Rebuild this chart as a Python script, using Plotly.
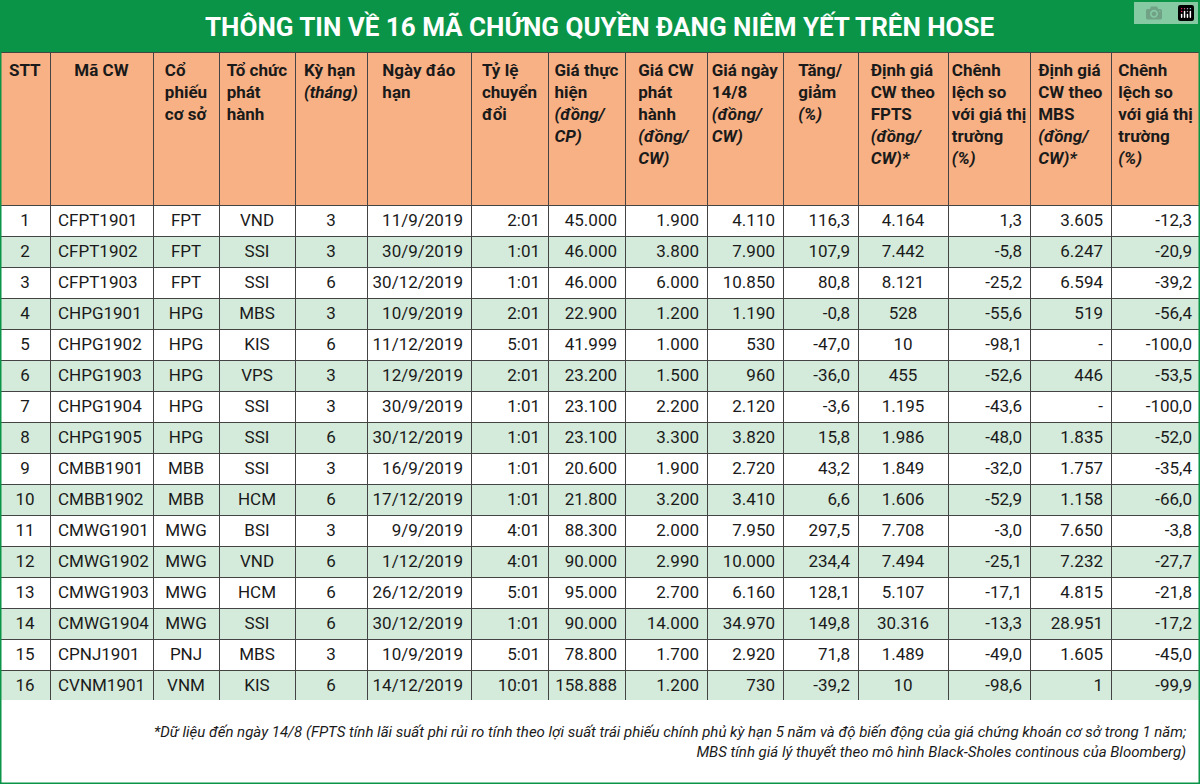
import plotly.graph_objects as go

stt = list(range(1, 17))
ma_cw = ["CFPT1901","CFPT1902","CFPT1903","CHPG1901","CHPG1902","CHPG1903","CHPG1904","CHPG1905",
         "CMBB1901","CMBB1902","CMWG1901","CMWG1902","CMWG1903","CMWG1904","CPNJ1901","CVNM1901"]
co_phieu = ["FPT","FPT","FPT","HPG","HPG","HPG","HPG","HPG","MBB","MBB","MWG","MWG","MWG","MWG","PNJ","VNM"]
to_chuc = ["VND","SSI","SSI","MBS","KIS","VPS","SSI","SSI","SSI","HCM","BSI","VND","HCM","SSI","MBS","KIS"]
ky_han = [3,3,6,3,6,3,3,6,3,6,3,6,6,6,3,6]
ngay = ["11/9/2019","30/9/2019","30/12/2019","10/9/2019","11/12/2019","12/9/2019","30/9/2019","30/12/2019",
        "16/9/2019","17/12/2019","9/9/2019","1/12/2019","26/12/2019","30/12/2019","10/9/2019","14/12/2019"]
ty_le = ["2:01","1:01","1:01","2:01","5:01","2:01","1:01","1:01","1:01","1:01","4:01","4:01","5:01","1:01","5:01","10:01"]
gia_th = ["45.000","46.000","46.000","22.900","41.999","23.200","23.100","23.100","20.600","21.800","88.300","90.000","95.000","90.000","78.800","158.888"]
gia_ph = ["1.900","3.800","6.000","1.200","1.000","1.500","2.200","3.300","1.900","3.200","2.000","2.990","2.700","14.000","1.700","1.200"]
gia_ngay = ["4.110","7.900","10.850","1.190","530","960","2.120","3.820","2.720","3.410","7.950","10.000","6.160","34.970","2.920","730"]
tang = ["116,3","107,9","80,8","-0,8","-47,0","-36,0","-3,6","15,8","43,2","6,6","297,5","234,4","128,1","149,8","71,8","-39,2"]
fpts = ["4.164","7.442","8.121","528","10","455","1.195","1.986","1.849","1.606","7.708","7.494","5.107","30.316","1.489","10"]
cl_fpts = ["1,3","-5,8","-25,2","-55,6","-98,1","-52,6","-43,6","-48,0","-32,0","-52,9","-3,0","-25,1","-17,1","-13,3","-49,0","-98,6"]
mbs = ["3.605","6.247","6.594","519","-","446","-","1.835","1.757","1.158","7.650","7.232","4.815","28.951","1.605","1"]
cl_mbs = ["-12,3","-20,9","-39,2","-56,4","-100,0","-53,5","-100,0","-52,0","-35,4","-66,0","-3,8","-27,7","-21,8","-17,2","-45,0","-99,9"]

headers = ["STT","Mã CW","Cổ<br>phiếu<br>cơ sở","Tổ chức<br>phát<br>hành","Kỳ hạn<br><i>(tháng)</i>",
           "Ngày đáo<br>hạn","Tỷ lệ<br>chuyển<br>đổi","Giá thực<br>hiện<br><i>(đồng/</i><br><i>CP)</i>",
           "Giá CW<br>phát<br>hành<br><i>(đồng/</i><br><i>CW)</i>","Giá ngày<br>14/8<br><i>(đồng/</i><br><i>CW)</i>",
           "Tăng/<br>giảm<br><i>(%)</i>","Định giá<br>CW theo<br>FPTS<br><i>(đồng/</i><br><i>CW)*</i>",
           "Chênh<br>lệch so<br>với giá thị<br>trường<br><i>(%)</i>","Định giá<br>CW theo<br>MBS<br><i>(đồng/</i><br><i>CW)*</i>",
           "Chênh<br>lệch so<br>với giá thị<br>trường<br><i>(%)</i>"]
cols = [stt, ma_cw, co_phieu, to_chuc, ky_han, ngay, ty_le, gia_th, gia_ph, gia_ngay, tang, fpts, cl_fpts, mbs, cl_mbs]
widths = [50,103,66,76,72,104,77,77,82,76,75,90,82,81,89]
aligns = ["center","left","center","center","center","right","right","right","right","right","right","center","right","right","right"]

def pad(h, maxl=6):
    n = h.count("<br>") + 1
    return "<br>" * ((maxl - n) // 2) + f"<b>{h}</b>"

row_fill = ["white" if i % 2 == 0 else "#d4eadb" for i in range(16)]
FONT = "Liberation Sans Narrow, Roboto, sans-serif"

fig = go.Figure(go.Table(
    columnwidth=widths,
    domain=dict(x=[0, 1], y=[84/784, 1 - 52/784]),
    header=dict(values=[pad(h) for h in headers], fill_color="#f8b184",
                line=dict(color="#444", width=1), align="center",
                font=dict(family=FONT, size=17, color="#1a1a1a"), height=153),
    cells=dict(values=cols, fill_color=[row_fill]*15, line=dict(color="#444", width=1),
               align=aligns, font=dict(family=FONT, size=17, color="#1a1a1a"), height=31),
))
fig.update_layout(
    width=1200, height=784, margin=dict(l=0, r=0, t=0, b=0), paper_bgcolor="white",
    shapes=[dict(type="rect", xref="paper", yref="paper", x0=0, x1=1, y0=1-52/784, y1=1,
                 fillcolor="#0a9447", line=dict(width=0), layer="below"),
            dict(type="rect", xref="paper", yref="paper", x0=0, x1=1, y0=0, y1=1,
                 fillcolor="rgba(0,0,0,0)", line=dict(color="#0a9447", width=3))],
    annotations=[
        dict(text="<b>THÔNG TIN VỀ 16 MÃ CHỨNG QUYỀN ĐANG NIÊM YẾT TRÊN HOSE</b>", xref="paper", yref="paper",
             x=0.5, y=1-27/784, yanchor="middle", showarrow=False, font=dict(family=FONT, size=26, color="white")),
        dict(text="<i>*Dữ liệu đến ngày 14/8 (FPTS tính lãi suất phi rủi ro tính theo lợi suất trái phiếu chính phủ kỳ hạn 5 năm và độ biến động của giá chứng khoán cơ sở trong 1 năm;<br>MBS tính giá lý thuyết theo mô hình Black-Sholes continous của Bloomberg)</i>",
             xref="paper", yref="paper", x=0.99, y=42/784, xanchor="right", yanchor="middle", align="right", showarrow=False,
             font=dict(family=FONT, size=15, color="#1a1a1a")),
    ],
)
fig.write_html("out.html")
with open("out.html", encoding="utf-8") as f:
    html = f.read()
html = html.replace("<head>", "<head><style>html,body{margin:0;padding:0;overflow:hidden}</style>", 1)
with open("out.html", "w", encoding="utf-8") as f:
    f.write(html)
